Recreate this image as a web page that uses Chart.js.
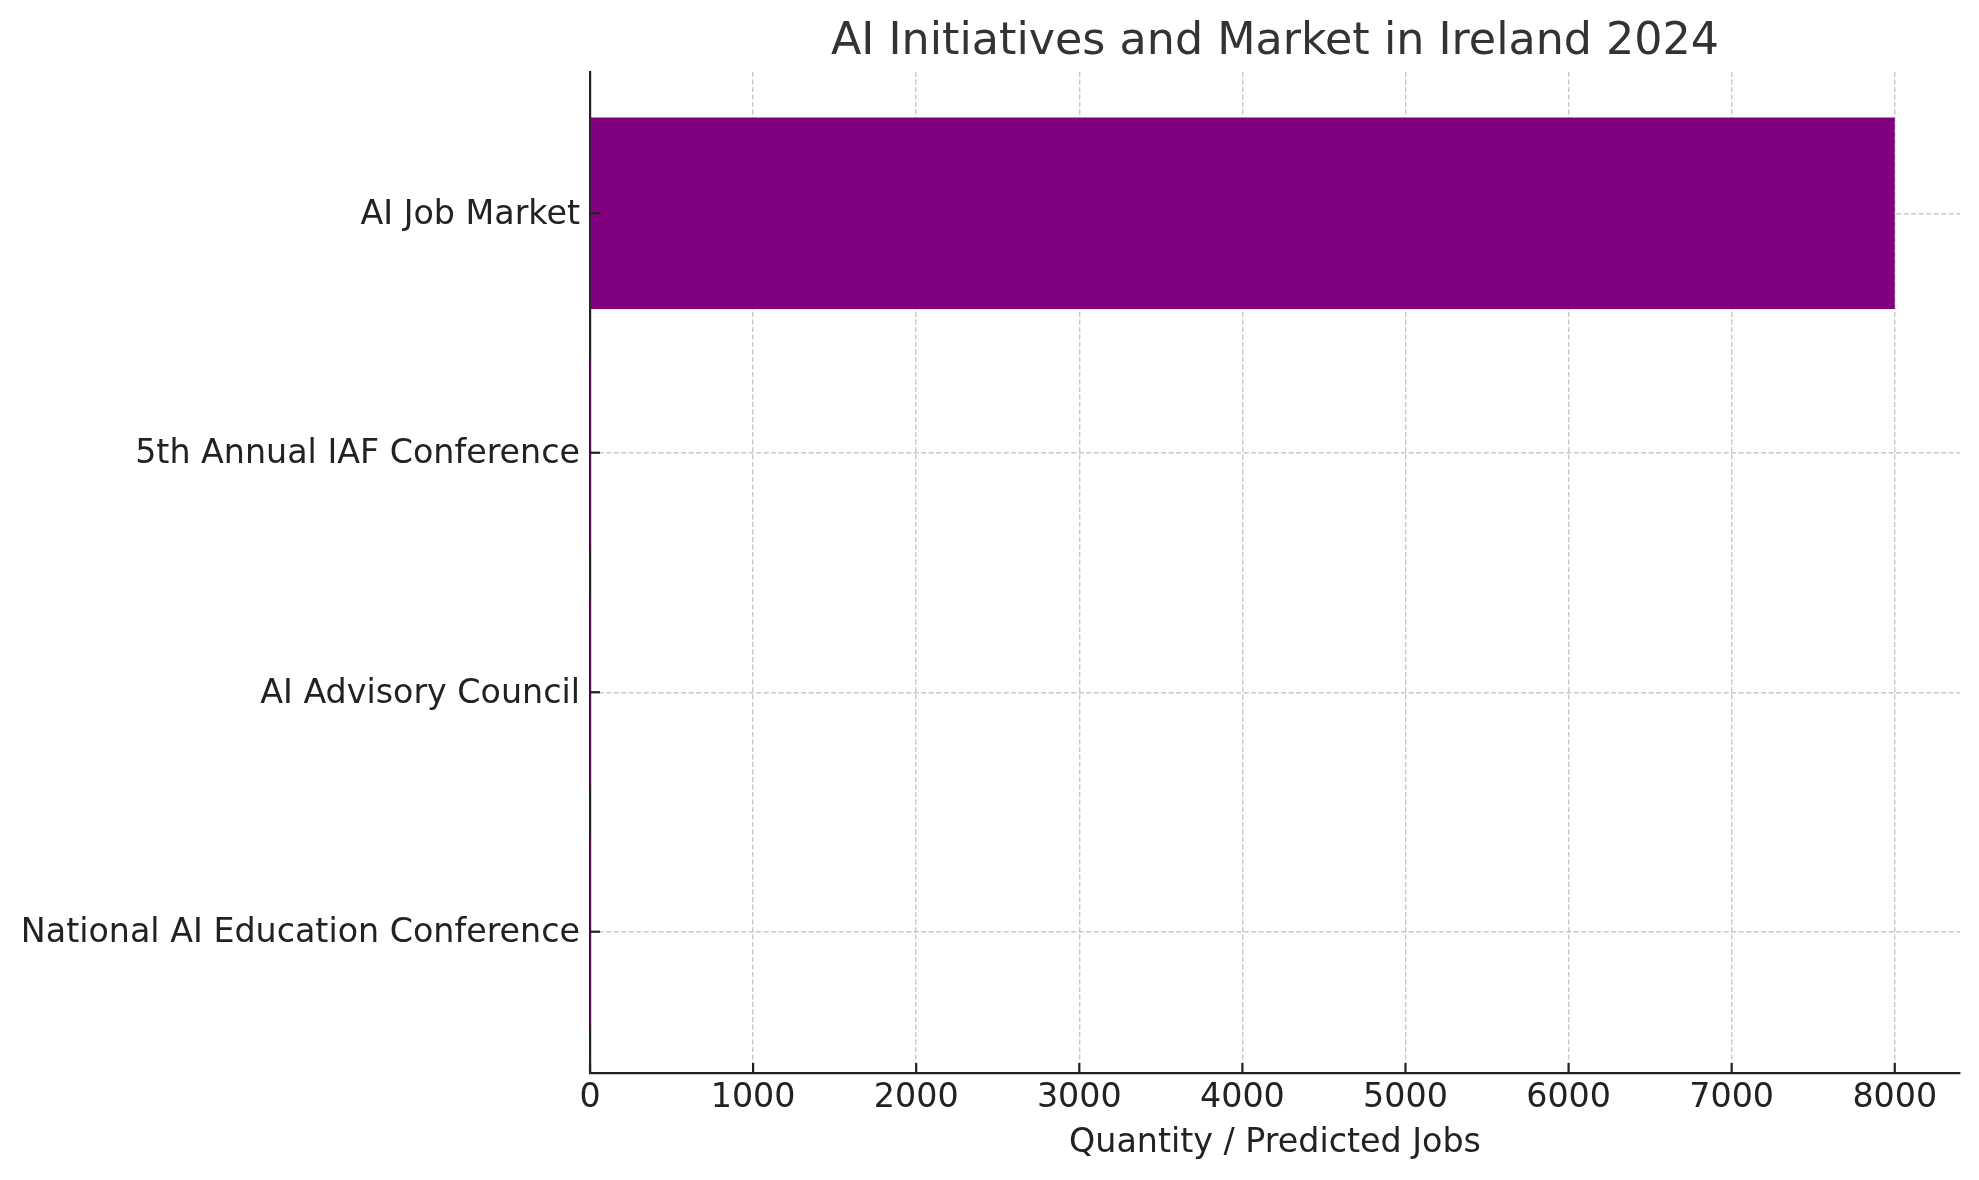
<!DOCTYPE html>
<html>
<head>
<meta charset="utf-8">
<script src="https://cdn.jsdelivr.net/npm/chart.js@4"></script>
<style>
html,body{margin:0;padding:0;background:#ffffff;}
#wrap{width:1979px;height:1180px;}
</style>
</head>
<body>
<div id="wrap"><canvas id="c" width="1979" height="1180"></canvas></div>
<script>
// ---- data (bottom to top, as in the reference) ----
const categories = ['National AI Education Conference', 'AI Advisory Council', '5th Annual IAF Conference', 'AI Job Market'];
const values = [1, 1, 1, 8000];
const categoryPositions = [0, 1, 2, 3];
const xTickValues = [0, 1000, 2000, 3000, 4000, 5000, 6000, 7000, 8000];
const titleText = 'AI Initiatives and Market in Ireland 2024';
const xAxisTitle = 'Quantity / Predicted Jobs';

const FONT = "'DejaVu Sans', sans-serif";
const gridColor = 'rgba(176,176,176,0.7)';
const axisColor = '#222222';

const inwardTicks = {
  id: 'inwardTicks',
  afterDraw(chart) {
    const { ctx, chartArea: a, scales } = chart;
    const x = scales.x, y = scales.y;
    ctx.save();
    ctx.strokeStyle = axisColor;
    ctx.lineWidth = 2.2;
    x.ticks.forEach(t => {
      const px = x.getPixelForValue(t.value);
      ctx.beginPath(); ctx.moveTo(px, a.bottom); ctx.lineTo(px, a.bottom - 10); ctx.stroke();
    });
    y.ticks.forEach(t => {
      const py = y.getPixelForValue(t.value);
      ctx.beginPath(); ctx.moveTo(a.left, py); ctx.lineTo(a.left + 10, py); ctx.stroke();
    });
    ctx.restore();
  }
};

const ctx = document.getElementById('c').getContext('2d');
new Chart(ctx, {
  type: 'bar',
  data: {
    datasets: [{
      data: values.map((v, i) => ({ x: v, y: categoryPositions[i] })),
      backgroundColor: '#800080',
      borderWidth: 0,
      barPercentage: 0.8,
      categoryPercentage: 1.0
    }]
  },
  options: {
    indexAxis: 'y',
    responsive: false,
    animation: false,
    devicePixelRatio: 1,
    layout: { padding: { left: 0, right: 19, top: 0, bottom: 0 } },
    plugins: {
      legend: { display: false },
      tooltip: { enabled: false },
      title: {
        display: true,
        text: titleText,
        fullSize: false,
        color: '#333333',
        font: { family: FONT, size: 44.4, weight: 'normal', lineHeight: 1.2 },
        padding: { top: 16, bottom: 2.7 }
      }
    },
    scales: {
      x: {
        type: 'linear',
        position: 'bottom',
        min: 0,
        max: 8400,
        z: 1,
        offset: false,
        afterBuildTicks: (axis) => { axis.ticks = xTickValues.map(v => ({ value: v })); },
        afterFit: (axis) => { axis.height = 107; },
        ticks: {
          color: axisColor,
          font: { family: FONT, size: 33.3 },
          padding: 5,
          maxRotation: 0,
          autoSkip: false,
          callback: (v) => String(v)
        },
        grid: {
          color: gridColor,
          lineWidth: 1.4,
          drawTicks: false,
          tickLength: 0,
          offset: false
        },
        border: { display: true, color: axisColor, width: 2.2, dash: [5, 2.5] },
        title: {
          display: true,
          text: xAxisTitle,
          color: axisColor,
          font: { family: FONT, size: 33.3, lineHeight: 1.2 },
          padding: { top: 0, bottom: 17 }
        }
      },
      y: {
        type: 'linear',
        position: 'left',
        min: -0.59,
        max: 3.59,
        z: 1,
        offset: false,
        afterBuildTicks: (axis) => { axis.ticks = categoryPositions.map(v => ({ value: v })); },
        afterFit: (axis) => { axis.width = 590; },
        ticks: {
          color: axisColor,
          font: { family: FONT, size: 33.3 },
          padding: 10,
          labelOffset: 2,
          autoSkip: false,
          callback: (v) => categories[Math.round(v)]
        },
        grid: {
          color: gridColor,
          lineWidth: 1.4,
          drawTicks: false,
          tickLength: 0,
          offset: false
        },
        border: { display: true, color: axisColor, width: 2.2, dash: [5, 2.5] }
      }
    }
  },
  plugins: [inwardTicks]
});
</script>
</body>
</html>
